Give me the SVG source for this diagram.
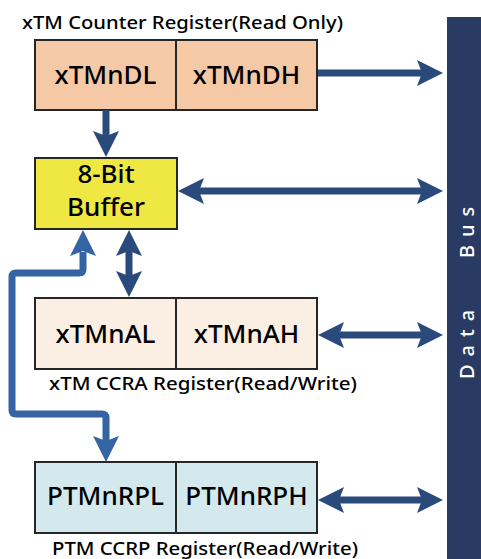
<svg xmlns="http://www.w3.org/2000/svg" width="481" height="559" viewBox="0 0 481 559">
<style>
.box{stroke:#262626;stroke-width:2}
.reg{font-family:"Noto Sans","Open Sans",sans-serif;font-size:26px;font-weight:500;fill:#000;text-anchor:middle}
.lbl{font-family:"Noto Sans","Open Sans",sans-serif;font-size:18px;font-weight:500;fill:#000}
.dk{stroke:#2B4A7C;stroke-width:7;fill:none}
.dkh{fill:#2B4A7C}
.lt{stroke:#3464A4;stroke-width:7;fill:none;stroke-linejoin:round}
.lth{fill:#3464A4}
.bus{font-family:"Noto Sans","Open Sans",sans-serif;font-size:20px;font-weight:500;fill:#fff;letter-spacing:8px}
</style>
<rect id="bus" x="447" y="17" width="34" height="542" fill="#2A3B63"/>
<g id="busText">
<text class="bus" transform="translate(474,379) rotate(-90)">Data</text>
<text class="bus" transform="translate(474,258) rotate(-90)">Bus</text>
</g>
<g id="counter">
<text class="lbl" x="22" y="29" textLength="321" lengthAdjust="spacingAndGlyphs">xTM Counter Register(Read Only)</text>
<rect class="box" x="35" y="40" width="282" height="70" fill="#F5C9A5"/>
<line x1="176" y1="40" x2="176" y2="110" stroke="#262626" stroke-width="2"/>
<text class="reg" x="105.5" y="84">xTMnDL</text>
<text class="reg" x="246.5" y="84">xTMnDH</text>
</g>
<g id="buffer">
<rect class="box" x="35" y="158" width="142" height="71" fill="#EFE843"/>
<text class="reg" x="106" y="183">8-Bit</text>
<text class="reg" x="106" y="216">Buffer</text>
</g>
<g id="ccra">
<rect class="box" x="35" y="298" width="282" height="71" fill="#FBEEE2"/>
<line x1="176" y1="298" x2="176" y2="369" stroke="#262626" stroke-width="2"/>
<text class="reg" x="105.5" y="343">xTMnAL</text>
<text class="reg" x="246.5" y="343">xTMnAH</text>
<text class="lbl" x="49" y="390" textLength="308" lengthAdjust="spacingAndGlyphs">xTM CCRA Register(Read/Write)</text>
</g>
<g id="ccrp">
<rect class="box" x="35" y="462" width="282" height="71" fill="#D3E9EE"/>
<line x1="176" y1="462" x2="176" y2="533" stroke="#262626" stroke-width="2"/>
<text class="reg" x="105.5" y="505">PTMnRPL</text>
<text class="reg" x="246.5" y="505">PTMnRPH</text>
<text class="lbl" x="52" y="555" textLength="306" lengthAdjust="spacingAndGlyphs">PTM CCRP Register(Read/Write)</text>
</g>
<g id="connectors">
<line class="dk" x1="318" y1="73" x2="422" y2="73"/>
<path class="dkh" d="M443,73 L417,60 L422,73 L417,86 Z"/>
<line class="dk" x1="106" y1="110" x2="106" y2="136"/>
<path class="dkh" d="M106,157 L93,131 L106,136 L119,131 Z"/>
<line class="dk" x1="199" y1="191" x2="422" y2="191"/>
<path class="dkh" d="M178,191 L204,178 L199,191 L204,204 Z"/>
<path class="dkh" d="M443,191 L417,178 L422,191 L417,204 Z"/>
<line class="dk" x1="129" y1="251" x2="129" y2="276"/>
<path class="dkh" d="M129,230 L116,256 L129,251 L142,256 Z"/>
<path class="dkh" d="M129,297 L116,271 L129,276 L142,271 Z"/>
<line class="dk" x1="339" y1="335" x2="422" y2="335"/>
<path class="dkh" d="M318,335 L344,322 L339,335 L344,348 Z"/>
<path class="dkh" d="M443,335 L417,322 L422,335 L417,348 Z"/>
<line class="dk" x1="339" y1="500" x2="422" y2="500"/>
<path class="dkh" d="M318,500 L344,487 L339,500 L344,513 Z"/>
<path class="dkh" d="M443,500 L417,487 L422,500 L417,513 Z"/>
<path class="lt" d="M83,252 L83,269 Q83,273 79,273 L16,273 Q12,273 12,277 L12,410 Q12,414 16,414 L102,414 Q106,414 106,418 L106,441"/>
<path class="lth" d="M83,230 L70,256 L83,251 L96,256 Z"/>
<path class="lth" d="M106,462 L93,436 L106,441 L119,436 Z"/>
</g>
</svg>
